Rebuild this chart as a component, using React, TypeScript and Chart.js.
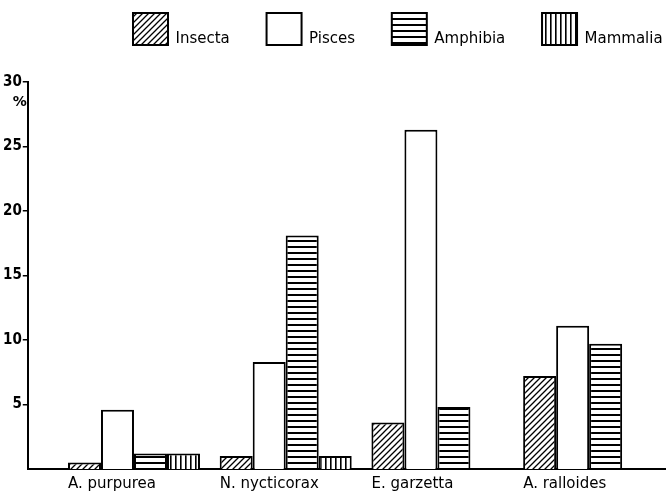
import { useEffect, useRef } from 'react';
import { Chart, registerables } from 'chart.js';

Chart.register(...registerables);

const categories = ['A. purpurea', 'N. nycticorax', 'E. garzetta', 'A. ralloides'];
const insecta = [0.5, 1.0, 3.6, 7.2];
const pisces = [4.6, 8.3, 26.3, 11.1];
const amphibia = [1.2, 18.1, 4.8, 9.7];
const mammalia = [1.2, 1.0, null, null];
const yTicks = [5, 10, 15, 20, 25, 30];

const FONT = '"DejaVu Sans", sans-serif';
const FONT_NARROW = '"DejaVu Sans Condensed", "DejaVu Sans", sans-serif';

function makePattern(kind: string): CanvasPattern | string {
  const s = kind === 'diag' ? 6 : kind === 'h' ? 6 : kind === 'v' ? 5 : 6;
  const c = document.createElement('canvas');
  c.width = s;
  c.height = s;
  const ctx = c.getContext('2d');
  if (!ctx) return '#fff';
  ctx.fillStyle = '#fff';
  ctx.fillRect(0, 0, s, s);
  ctx.strokeStyle = '#000';
  if (kind === 'diag') {
    ctx.lineWidth = 1.3;
    ctx.beginPath();
    ctx.moveTo(0, s);
    ctx.lineTo(s, 0);
    ctx.moveTo(-2, 2);
    ctx.lineTo(2, -2);
    ctx.moveTo(s - 2, s + 2);
    ctx.lineTo(s + 2, s - 2);
    ctx.stroke();
  } else if (kind === 'h') {
    ctx.fillStyle = '#000';
    ctx.fillRect(0, 0, s, 2);
  } else if (kind === 'v') {
    ctx.fillStyle = '#000';
    ctx.fillRect(0, 0, 1.6, s);
  }
  const p = ctx.createPattern(c, 'repeat');
  return p || '#fff';
}

const LEGEND_LEFT = 101;

const layoutTweaks = {
  id: 'layoutTweaks',
  afterUpdate(chart: any) {
    if (chart.legend) {
      const w = chart.legend.right - chart.legend.left;
      chart.legend.left = LEGEND_LEFT;
      chart.legend.right = LEGEND_LEFT + w;
    }
  },
  afterDraw(chart: any) {
    const y = chart.scales.y;
    const ctx = chart.ctx;
    ctx.save();
    ctx.fillStyle = '#000';
    ctx.font = `bold 14px ${FONT}`;
    ctx.textAlign = 'right';
    ctx.textBaseline = 'middle';
    ctx.fillText('%', y.right - 1, y.getPixelForValue(28.4));
    ctx.restore();
  },
};

export default function App() {
  const ref = useRef<HTMLCanvasElement>(null);
  useEffect(() => {
    if (!ref.current) return;
    const common = { borderColor: '#000', borderWidth: 2, borderSkipped: 'bottom' as const };
    const chart = new Chart(ref.current, {
      type: 'bar',
      data: {
        labels: categories.map((_, i) => i),
        datasets: [
          { label: 'Insecta', data: insecta, backgroundColor: makePattern('diag') as any, ...common },
          { label: 'Pisces', data: pisces, backgroundColor: '#fff', ...common },
          { label: 'Amphibia', data: amphibia, backgroundColor: makePattern('h') as any, ...common },
          { label: 'Mammalia', data: mammalia as any, backgroundColor: makePattern('v') as any, ...common },
        ],
      },
      options: {
        animation: false,
        responsive: true,
        maintainAspectRatio: false,
        layout: { padding: { left: 2, right: 5, top: -19, bottom: -7 } },
        datasets: { bar: { barPercentage: 1, categoryPercentage: 0.87 } },
        plugins: {
          legend: {
            position: 'top',
            align: 'start',
            labels: {
              boxWidth: 35,
              boxHeight: 32,
              padding: 32,
              color: '#000',
              font: { family: FONT, size: 15, lineHeight: '10px' } as any,
              generateLabels: (ch: any) =>
                (Chart.defaults.plugins.legend.labels as any)
                  .generateLabels(ch)
                  .map((item: any) => ({ ...item, text: ['', item.text] })),
            },
          },
          subtitle: {
            display: true,
            text: '',
            weight: 500,
            font: { size: 10 },
            padding: { top: 0, bottom: 15 },
          } as any,
          tooltip: { enabled: false },
        },
        scales: {
          x: {
            type: 'linear',
            offset: false,
            min: -0.7,
            max: 3.5,
            afterBuildTicks: (scale: any) => {
              scale.ticks = categories.map((_, i) => ({ value: i }));
            },
            afterFit: (scale: any) => {
              scale.paddingLeft = 0;
              scale.paddingRight = 0;
            },
            grid: { display: false, drawTicks: false },
            border: { color: '#000', width: 2 },
            ticks: {
              color: '#000',
              font: { family: FONT, size: 15 },
              align: 'start',
              labelOffset: -66,
              maxRotation: 0,
              padding: 6,
              callback: (v: any) => categories[Number(v)] ?? '',
            },
          },
          y: {
            min: 0,
            max: 30,
            afterBuildTicks: (scale: any) => {
              scale.ticks = yTicks.map((v) => ({ value: v }));
            },
            grid: { drawOnChartArea: false, color: '#000', tickLength: 5, lineWidth: 1.5 },
            border: { color: '#000', width: 2 },
            ticks: {
              color: '#000',
              font: { family: FONT_NARROW, size: 15, weight: 'bold' },
              padding: 1,
            },
          },
        },
      },
      plugins: [layoutTweaks],
    });
    return () => chart.destroy();
  }, []);
  return (
    <div style={{ position: 'fixed', left: 0, top: 0, width: 670, height: 492 }}>
      <canvas ref={ref} />
    </div>
  );
}
